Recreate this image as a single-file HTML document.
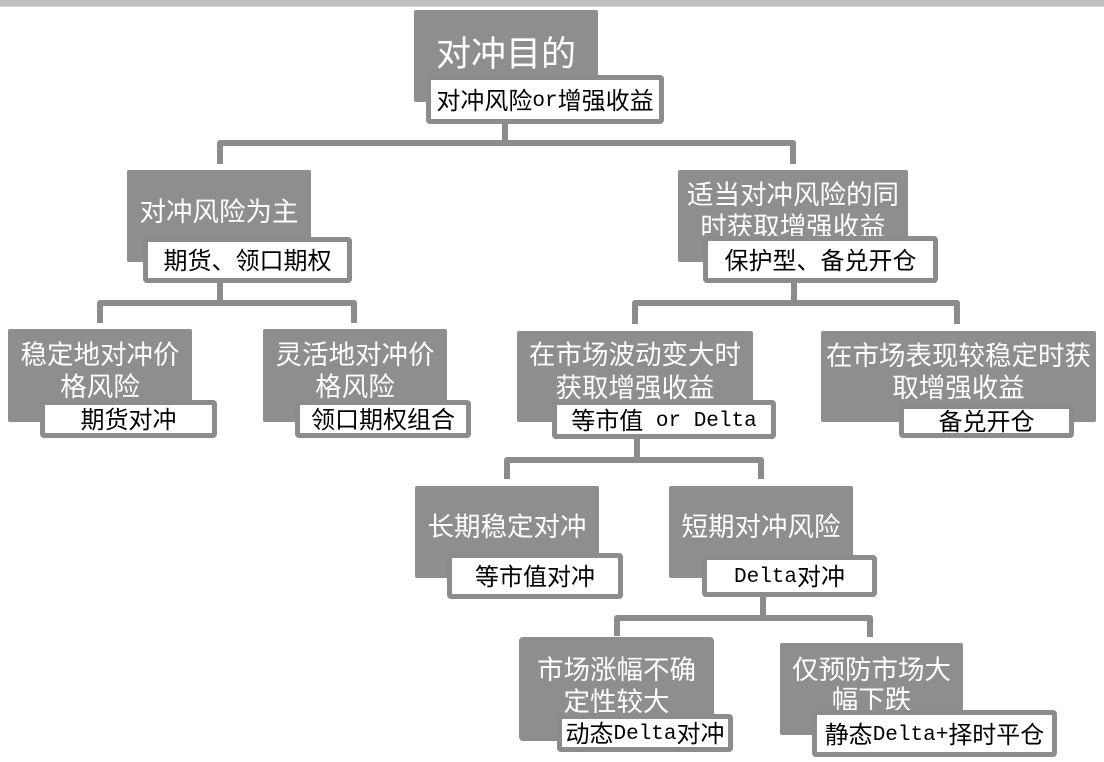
<!DOCTYPE html>
<html>
<head>
<meta charset="utf-8">
<style>
  html,body{margin:0;padding:0;background:#fff;}
  body{width:1104px;height:762px;position:relative;overflow:hidden;
       font-family:"Liberation Sans","Noto Sans CJK SC",sans-serif;}
  .band{position:absolute;left:0;top:0;width:1104px;height:6px;background:#c0c0c0;border-bottom:1px solid #dcdcdc;}
  .g{position:absolute;background:#8e8e8e;border-radius:2px;}
  .t{position:absolute;color:#fff;text-align:center;white-space:nowrap;
     font-family:"Liberation Sans","Noto Sans CJK SC",sans-serif;font-size:26.5px;line-height:32px;}
  .l{position:absolute;box-sizing:border-box;border:5px solid #8c8c8c;background:#fff;border-radius:4px;
     display:flex;align-items:center;justify-content:center;white-space:nowrap;color:#000;padding-top:4px;
     font-family:"Liberation Sans","Noto Sans CJK SC",sans-serif;font-size:24px;line-height:28px;}
  .m{font-family:"Liberation Mono",monospace;font-size:21px;}
  svg{position:absolute;left:0;top:0;}
</style>
</head>
<body>
<div class="band"></div>

<svg width="1104" height="762" viewBox="0 0 1104 762">
  <g fill="none" stroke="#8c8c8c" stroke-width="6" stroke-linejoin="round">
    <path d="M505,124 V143"/>
    <path d="M220,164 V143 H793 V164"/>
    <path d="M220,283 V303"/>
    <path d="M100,323 V303 H354 V323"/>
    <path d="M794,283 V303"/>
    <path d="M635,324 V303 H957 V324"/>
    <path d="M637,439 V460"/>
    <path d="M507,479 V460 H761 V479"/>
    <path d="M763,597 V618"/>
    <path d="M617,636 V618 H870 V637"/>
  </g>
</svg>

<!-- Root -->
<div class="g" style="left:414px;top:10px;width:184px;height:92px;"></div>
<div class="t" style="left:414px;top:35px;width:184px;font-size:35px;line-height:40px;">对冲目的</div>
<div class="l" style="left:426px;top:75px;width:238px;height:49px;">对冲风险<span class="m">or</span>增强收益</div>

<!-- L1 left -->
<div class="g" style="left:127px;top:170px;width:184px;height:92px;"></div>
<div class="t" style="left:127px;top:196px;width:184px;">对冲风险为主</div>
<div class="l" style="left:143px;top:237px;width:209px;height:46px;">期货、领口期权</div>

<!-- L2 LL -->
<div class="g" style="left:8px;top:329px;width:184px;height:93px;"></div>
<div class="t" style="left:8px;top:339px;width:184px;">稳定地对冲价<br>格风险</div>
<div class="l" style="left:40px;top:400px;width:177px;height:38px;">期货对冲</div>

<!-- L2 LR -->
<div class="g" style="left:263px;top:329px;width:184px;height:93px;"></div>
<div class="t" style="left:263px;top:339px;width:184px;">灵活地对冲价<br>格风险</div>
<div class="l" style="left:295px;top:400px;width:176px;height:38px;">领口期权组合</div>

<!-- L1 right -->
<div class="g" style="left:678px;top:170px;width:230px;height:92px;"></div>
<div class="t" style="left:678px;top:179px;width:230px;">适当对冲风险的同<br>时获取增强收益</div>
<div class="l" style="left:703px;top:236px;width:235px;height:47px;">保护型、备兑开仓</div>

<!-- L2 RL -->
<div class="g" style="left:517px;top:331px;width:236px;height:91px;"></div>
<div class="t" style="left:517px;top:339px;width:236px;line-height:33px;">在市场波动变大时<br>获取增强收益</div>
<div class="l" style="left:552px;top:400px;width:224px;height:39px;">等市值<span class="m">&nbsp;or Delta</span></div>

<!-- L2 RR -->
<div class="g" style="left:821px;top:331px;width:275px;height:91px;"></div>
<div class="t" style="left:821px;top:340px;width:275px;">在市场表现较稳定时获<br>取增强收益</div>
<div class="l" style="left:899px;top:404px;width:175px;height:34px;">备兑开仓</div>

<!-- L3 L -->
<div class="g" style="left:415px;top:486px;width:184px;height:92px;"></div>
<div class="t" style="left:415px;top:511px;width:184px;">长期稳定对冲</div>
<div class="l" style="left:447px;top:553px;width:176px;height:46px;">等市值对冲</div>

<!-- L3 R -->
<div class="g" style="left:669px;top:486px;width:184px;height:92px;"></div>
<div class="t" style="left:669px;top:511px;width:184px;">短期对冲风险</div>
<div class="l" style="left:702px;top:555px;width:175px;height:42px;"><span class="m">Delta</span>对冲</div>

<!-- L4 L -->
<div class="g" style="left:519px;top:637px;width:195px;height:104px;border-radius:4px;"></div>
<div class="t" style="left:519px;top:654px;width:195px;">市场涨幅不确<br>定性较大</div>
<div class="l" style="left:557px;top:714px;width:176px;height:38px;">动态<span class="m">Delta</span>对冲</div>

<!-- L4 R -->
<div class="g" style="left:780px;top:643px;width:183px;height:92px;"></div>
<div class="t" style="left:780px;top:655px;width:183px;line-height:30px;">仅预防市场大<br>幅下跌</div>
<div class="l" style="left:812px;top:710px;width:245px;height:47px;">静态<span class="m">Delta+</span>择时平仓</div>

</body>
</html>
